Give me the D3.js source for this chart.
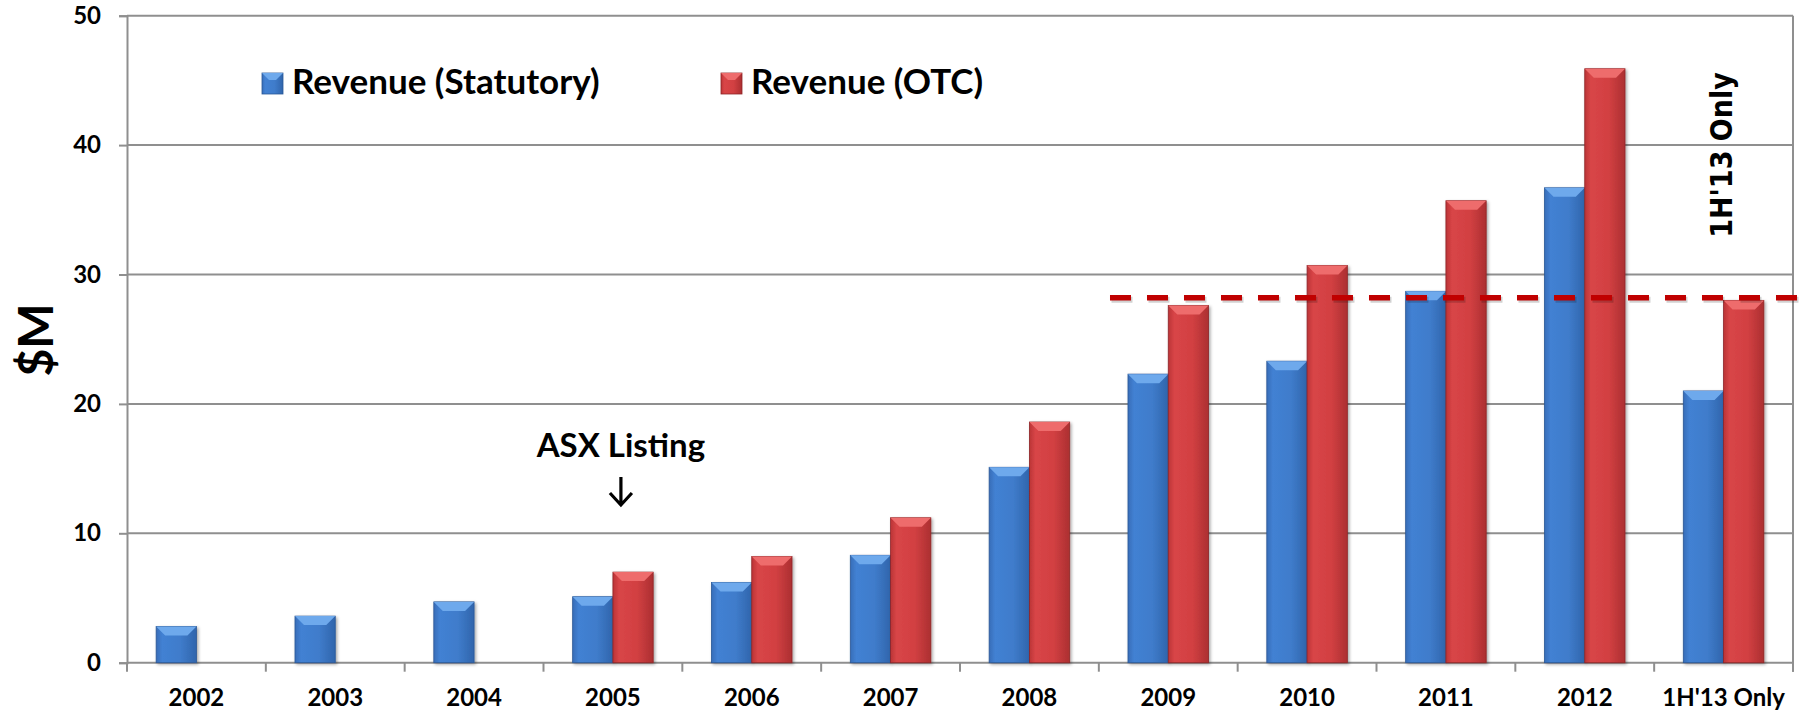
<!DOCTYPE html>
<html>
<head>
    <title>Revenue chart</title>
    <script src="https://d3js.org/d3.v7.min.js"></script>
    <style>
        body { margin: 0; background: #fff; }
        text { font-family: Lato, "Open Sans", sans-serif; font-weight: bold; fill: #000; }
    </style>
</head>
<body>
<script>
    var w = 1804;
    var h = 712;

    // data ($M)
    var categories = ["2002", "2003", "2004", "2005", "2006", "2007", "2008", "2009", "2010", "2011", "2012", "1H'13 Only"];
    var statutory  = [2.8, 3.6, 4.7, 5.1, 6.2, 8.3, 15.1, 22.3, 23.3, 28.7, 36.7, 21.0];
    var otc        = [null, null, null, 7.0, 8.2, 11.2, 18.6, 27.6, 30.7, 35.7, 45.9, 28.0];
    var seriesNames = ["Revenue (Statutory)", "Revenue (OTC)"];
    var yTicks = [0, 10, 20, 30, 40, 50];
    var refLine = 28.2;

    var plotL = 127, plotR = 1793, plotT = 15.7, plotB = 662.7;

    var x0 = d3.scaleBand()
               .domain(categories)
               .range([plotL, plotR])
               .paddingInner(0.42)
               .paddingOuter(0.21);
    var x1 = d3.scaleBand()
               .domain(seriesNames)
               .range([0, x0.bandwidth()]);
    var yScale = d3.scaleLinear()
                   .domain([0, 50])
                   .range([plotB, plotT]);

    var svg = d3.select("body")
                .append("svg")
                .attr("width", w)
                .attr("height", h);

    var defs = svg.append("defs");
    function grad(id, stops) {
        var g = defs.append("linearGradient").attr("id", id)
                    .attr("x1", "0").attr("x2", "1").attr("y1", "0").attr("y2", "0");
        stops.forEach(function(s) {
            g.append("stop").attr("offset", s[0]).attr("stop-color", s[1]);
        });
    }
    grad("gBlue", [[0, "#376db8"], [0.15, "#4281d3"], [0.6, "#3f7ccb"], [1, "#3065ac"]]);
    grad("gRed",  [[0, "#bb3436"], [0.15, "#d84547"], [0.6, "#d24042"], [1, "#ac2f31"]]);
    var shadow = defs.append("filter").attr("id", "shadow")
                     .attr("x", "-20%").attr("y", "-20%").attr("width", "140%").attr("height", "140%");
    shadow.append("feDropShadow").attr("dx", 1.5).attr("dy", 1.5)
          .attr("stdDeviation", 1.5).attr("flood-color", "#000").attr("flood-opacity", 0.35);

    var colors = {
        "Revenue (Statutory)": { fill: "url(#gBlue)", top: "#6ea9ec", edge: "#2a5796" },
        "Revenue (OTC)":       { fill: "url(#gRed)",  top: "#ee6c6c", edge: "#8e2527" }
    };

    // gridlines
    svg.append("g")
       .selectAll("line")
       .data(yTicks.slice(1))
       .enter()
       .append("line")
       .attr("x1", plotL).attr("x2", plotR)
       .attr("y1", function(d) { return yScale(d); })
       .attr("y2", function(d) { return yScale(d); })
       .attr("stroke", "#8f8f8f")
       .attr("stroke-width", 2);

    // right border
    svg.append("line")
       .attr("x1", plotR).attr("x2", plotR)
       .attr("y1", plotT).attr("y2", plotB + 9)
       .attr("stroke", "#8f8f8f").attr("stroke-width", 2);

    // y axis
    var yAxis = svg.append("g")
                   .attr("transform", "translate(" + plotL + ",0)")
                   .call(d3.axisLeft(yScale).tickValues(yTicks).tickSize(8).tickPadding(18));
    yAxis.select(".domain").attr("stroke", "#8f8f8f").attr("stroke-width", 2);
    yAxis.selectAll(".tick line").attr("stroke", "#8f8f8f").attr("stroke-width", 2);
    yAxis.selectAll(".tick text")
         .attr("font-family", "Lato").attr("font-weight", "bold")
         .attr("font-size", "24px").attr("fill", "#000");

    // x axis baseline + boundary ticks
    svg.append("line")
       .attr("x1", plotL).attr("x2", plotR)
       .attr("y1", plotB).attr("y2", plotB)
       .attr("stroke", "#8f8f8f").attr("stroke-width", 2);
    var boundaries = d3.range(categories.length + 1);
    svg.append("g")
       .selectAll("line")
       .data(boundaries)
       .enter()
       .append("line")
       .attr("x1", function(i) { return plotL + i * x0.step(); })
       .attr("x2", function(i) { return plotL + i * x0.step(); })
       .attr("y1", plotB).attr("y2", plotB + 9)
       .attr("stroke", "#8f8f8f").attr("stroke-width", 2);

    var xAxis = svg.append("g")
                   .attr("transform", "translate(0," + plotB + ")")
                   .call(d3.axisBottom(x0).tickSize(0).tickPadding(26));
    xAxis.select(".domain").remove();
    xAxis.selectAll(".tick text")
         .attr("font-family", "Lato").attr("font-weight", "bold")
         .attr("font-size", "24px").attr("fill", "#000");

    // bars
    var rows = [];
    categories.forEach(function(c, i) {
        rows.push({ cat: c, s: seriesNames[0], v: statutory[i] });
        if (otc[i] != null) rows.push({ cat: c, s: seriesNames[1], v: otc[i] });
    });
    var bw = x1.bandwidth();
    var bev = 9;
    var bars = svg.append("g")
                  .selectAll("g")
                  .data(rows)
                  .enter()
                  .append("g")
                  .attr("filter", "url(#shadow)");
    bars.append("rect")
        .attr("x", function(d) { return x0(d.cat) + x1(d.s); })
        .attr("y", function(d) { return yScale(d.v); })
        .attr("width", bw)
        .attr("height", function(d) { return plotB - yScale(d.v); })
        .attr("fill", function(d) { return colors[d.s].fill; })
        .attr("stroke", function(d) { return colors[d.s].edge; })
        .attr("stroke-width", 0.8);
    bars.append("path")
        .attr("d", function(d) {
            var x = x0(d.cat) + x1(d.s), y = yScale(d.v);
            return "M" + x + "," + y + "L" + (x + bw) + "," + y +
                   "L" + (x + bw - bev) + "," + (y + bev) + "L" + (x + bev) + "," + (y + bev) + "Z";
        })
        .attr("fill", function(d) { return colors[d.s].top; });

    // 1H'13 reference line (soft shadow drawn as an offset copy)
    var lineX1 = x0("2009") - 18;
    svg.append("line")
       .attr("x1", lineX1 + 1.5).attr("x2", w)
       .attr("y1", yScale(refLine) + 2).attr("y2", yScale(refLine) + 2)
       .attr("stroke", "#000").attr("stroke-opacity", 0.18)
       .attr("stroke-width", 6)
       .attr("stroke-dasharray", "21,16");
    svg.append("line")
       .attr("x1", lineX1).attr("x2", w)
       .attr("y1", yScale(refLine)).attr("y2", yScale(refLine))
       .attr("stroke", "#c00000")
       .attr("stroke-width", 5.5)
       .attr("stroke-dasharray", "21,16");

    // legend
    var legX = [262, 721];
    var leg = svg.append("g")
                 .selectAll("g")
                 .data(seriesNames)
                 .enter()
                 .append("g")
                 .attr("transform", function(d, i) { return "translate(" + legX[i] + ",73)"; });
    leg.append("rect")
       .attr("width", 21).attr("height", 21)
       .attr("fill", function(d) { return colors[d].fill; })
       .attr("stroke", function(d) { return colors[d].edge; })
       .attr("stroke-width", 0.8);
    leg.append("path")
       .attr("d", "M0,0L21,0L14,7L7,7Z")
       .attr("fill", function(d) { return colors[d].top; });
    leg.append("text")
       .attr("x", 30).attr("y", 21)
       .attr("font-size", "35px")
       .text(function(d) { return d; });

    // y title
    svg.append("text")
       .attr("transform", "translate(53,340) rotate(-90)")
       .attr("text-anchor", "middle")
       .attr("font-size", "48px")
       .text("$M");

    // ASX listing annotation
    var asxX = x0("2005") + x0.bandwidth() / 2 + 8;
    svg.append("text")
       .attr("x", asxX).attr("y", 457)
       .attr("text-anchor", "middle")
       .attr("font-size", "33px")
       .text("ASX Listing");
    svg.append("path")
       .attr("d", "M" + asxX + ",477L" + asxX + ",505M" + (asxX - 11) + ",493L" + asxX + ",505L" + (asxX + 11) + ",493")
       .attr("fill", "none").attr("stroke", "#000").attr("stroke-width", 3.2);

    // rotated period note
    svg.append("text")
       .attr("transform", "translate(" + (x0("1H'13 Only") + x0.bandwidth() / 2 - 2) + ",155) rotate(-90)")
       .attr("text-anchor", "middle")
       .attr("dy", "0.35em")
       .style("font-family", "'DejaVu Sans Condensed', 'DejaVu Sans', sans-serif")
       .attr("font-size", "30px")
       .text("1H'13 Only");
</script>
</body>
</html>
